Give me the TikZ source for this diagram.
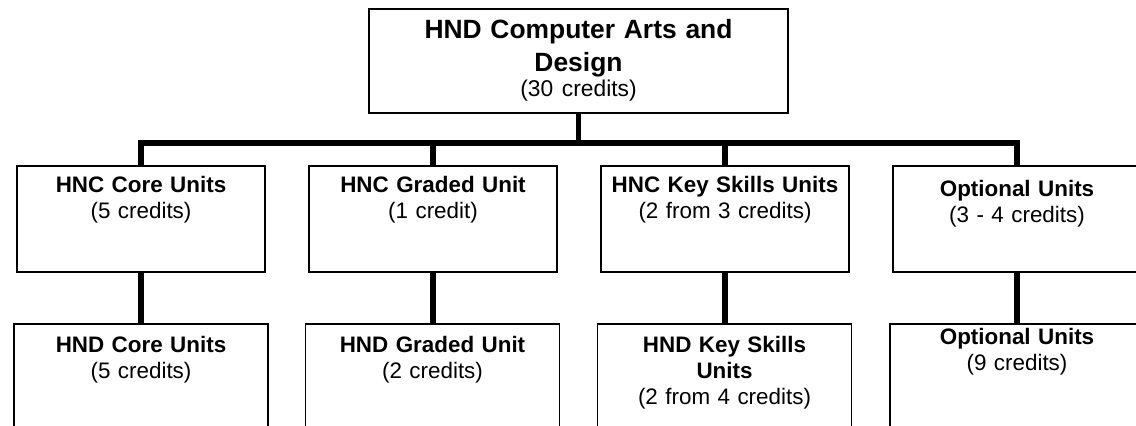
\documentclass[tikz,border=0pt]{standalone}
\usepackage{fontspec}
\setmainfont{Liberation Sans}

\begin{document}
\begin{tikzpicture}[x=0.5pt, y=-0.5pt, line join=miter]
    \tikzstyle{unit}=[rectangle, draw, line width=0.8pt, inner sep=0pt, align=center, font=\fontsize{11.2}{13}\selectfont]
    \tikzstyle{award unit}=[unit, text width=209.5pt, text height=15pt, text depth=37pt, font=\fontsize{13.2}{16.5}\selectfont]
    \tikzstyle{hnc unit}=[unit, text width=124pt, text height=13.5pt, text depth=39.5pt]
    \tikzstyle{hnd unit}=[unit, text width=127pt, text height=14.5pt, text depth=39.5pt]
    \tikzstyle{link}=[line width=2.7pt]

    \clip (0,0) rectangle (1136,426);

    % Award
    \node[award unit] (HND) at (578.5,61) {\textbf{HND Computer Arts and\\Design}\\[-4pt]{\fontsize{11.4}{13}\selectfont (30 credits)}};

    % HNC units
    \foreach \x/\name/\title/\credits in {141/core/HNC Core Units/5 credits, 433/graded/HNC Graded Unit/1 credit, 725/skills/HNC Key Skills Units/2 from 3 credits}
        \node[hnc unit] (HNC-\name) at (\x,219) {\textbf{\title}\\(\credits)};
    \node[hnc unit, text height=15.5pt, text depth=37.5pt] (HNC-optional) at (1017,219) {\textbf{Optional Units}\\(3 - 4 credits)};

    % HND units
    \foreach \x/\name/\title/\credits in {141/core/HND Core Units/5 credits, 432.5/graded/HND Graded Unit/2 credits, 724.5/skills/HND Key Skills\\Units/2 from 4 credits}
        \node[hnd unit] (HND-\name) at (\x,378) {\textbf{\title}\\(\credits)};
    \node[hnd unit, text height=10.5pt, text depth=43.5pt] (HND-optional) at (1017,378) {\textbf{Optional Units}\\(9 credits)};

    % Award to HNC units
    \coordinate (bar) at (578.5,143);
    \draw[link] (HND.south) -- (bar);
    \draw[link] (HNC-core.north) |- (bar) -| (HNC-optional.north);
    \foreach \name in {graded,skills}
        \draw[link] (HNC-\name.north |- bar) -- (HNC-\name.north);

    % HNC units to HND units
    \foreach \name in {core,graded,skills,optional}
        \draw[link] (HNC-\name.south) -- (HNC-\name.south |- HND-\name.north);
\end{tikzpicture}
\end{document}
